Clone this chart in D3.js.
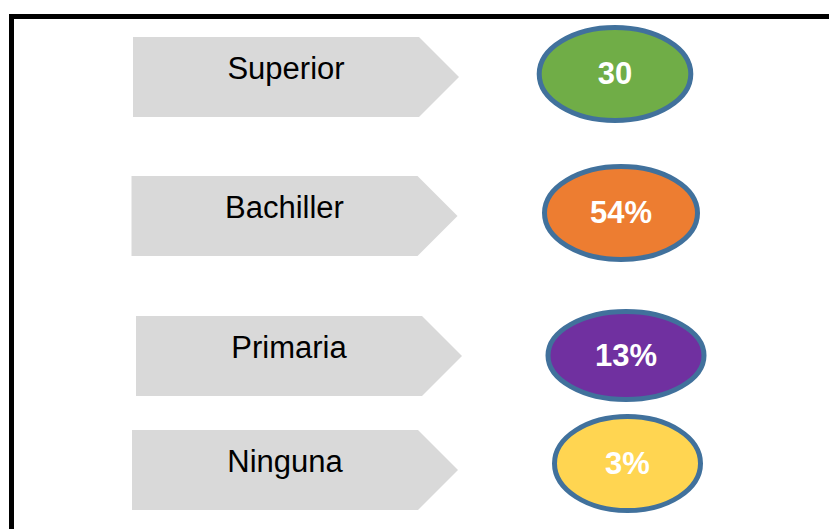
<!DOCTYPE html>
<html>
<head>
<meta charset="utf-8">
<script src="https://cdn.jsdelivr.net/npm/d3@7"></script>
<style>
  html, body { margin: 0; padding: 0; background: #fff; }
  svg { display: block; }
</style>
</head>
<body>
<svg width="829" height="529"></svg>
<script>
// Education level categories and the value shown in each bubble
var categories = ["Superior", "Bachiller", "Primaria", "Ninguna"];
var valueLabels = ["30", "54%", "13%", "3%"];
var bubbleColors = ["#70ad47", "#ed7d31", "#7030a0", "#ffd551"];

var svg = d3.select("svg");

// frame (runs off the right and bottom edge)
svg.append("rect")
  .attr("x", 11.5).attr("y", 16.5)
  .attr("width", 900).attr("height", 600)
  .attr("fill", "none")
  .attr("stroke", "#000")
  .attr("stroke-width", 5);

// row layout, slightly uneven like the original slide
var arrowTop = d3.scaleOrdinal().domain(categories).range([37, 176, 316, 430]);
var arrowLeft = d3.scaleOrdinal().domain(categories).range([133, 131.5, 136, 132]);
var bubbleX = d3.scaleOrdinal().domain(categories).range([615, 621, 626, 627.5]);
var bubbleY = d3.scaleOrdinal().domain(categories).range([74, 213, 355.5, 463.5]);
var bubbleRx = d3.scaleOrdinal().domain(categories).range([75.8, 76.5, 78, 73]);
var bubbleRy = d3.scaleOrdinal().domain(categories).range([46.5, 46.5, 44, 47]);

var arrowW = 326, arrowH = 80, notch = 40;

var rows = svg.selectAll(".row")
  .data(categories.map(function(c, i) {
    return { key: c, label: valueLabels[i], color: bubbleColors[i] };
  }))
  .enter().append("g")
  .attr("class", "row");

// pentagon arrows
rows.append("path")
  .attr("fill", "#d9d9d9")
  .attr("d", function(d) {
    var x = arrowLeft(d.key), y = arrowTop(d.key);
    var p = d3.path();
    p.moveTo(x, y);
    p.lineTo(x + arrowW - notch, y);
    p.lineTo(x + arrowW, y + arrowH / 2);
    p.lineTo(x + arrowW - notch, y + arrowH);
    p.lineTo(x, y + arrowH);
    p.closePath();
    return p.toString();
  });

rows.append("text")
  .attr("x", function(d) { return arrowLeft(d.key) + 153; })
  .attr("y", function(d) { return arrowTop(d.key) + 42; })
  .attr("text-anchor", "middle")
  .attr("font-family", "Liberation Sans, Arial, sans-serif")
  .attr("font-size", 31)
  .attr("fill", "#000")
  .text(function(d) { return d.key; });

// bubbles
rows.append("ellipse")
  .attr("cx", function(d) { return bubbleX(d.key); })
  .attr("cy", function(d) { return bubbleY(d.key); })
  .attr("rx", function(d) { return bubbleRx(d.key); })
  .attr("ry", function(d) { return bubbleRy(d.key); })
  .attr("fill", function(d) { return d.color; })
  .attr("stroke", "#41719c")
  .attr("stroke-width", 5);

rows.append("text")
  .attr("x", function(d) { return bubbleX(d.key); })
  .attr("y", function(d) { return bubbleY(d.key) - 1; })
  .attr("dy", "0.36em")
  .attr("text-anchor", "middle")
  .attr("font-family", "Liberation Sans, Arial, sans-serif")
  .attr("font-weight", "bold")
  .attr("font-size", 31)
  .attr("fill", "#fff")
  .text(function(d) { return d.label; });
</script>
</body>
</html>
